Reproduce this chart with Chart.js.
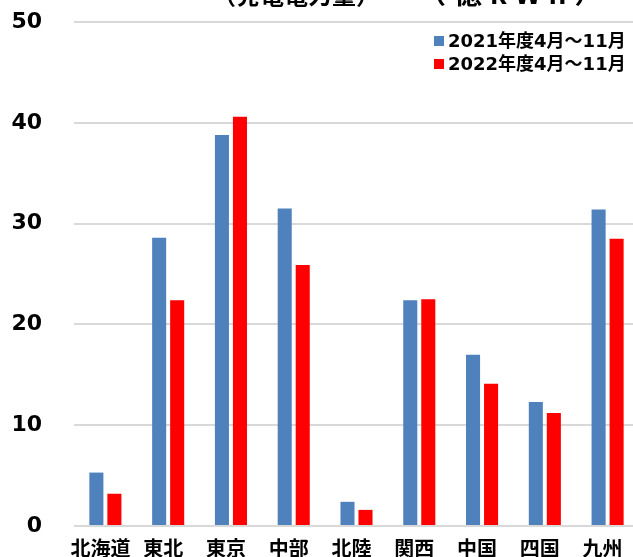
<!DOCTYPE html>
<html lang="ja">
<head>
<meta charset="utf-8">
<script src="https://cdn.jsdelivr.net/npm/chart.js@4.4.1/dist/chart.umd.min.js"></script>
<style>
  html, body { margin: 0; padding: 0; background: #ffffff; overflow: hidden; }
  #wrap { position: relative; width: 640px; height: 557px; }
</style>
</head>
<body>
<div id="wrap"><canvas id="chart"></canvas></div>
<script>
// 地域別の値（億kWh）
const regions = ['北海道', '東北', '東京', '中部', '北陸', '関西', '中国', '四国', '九州'];
const fy2021 = [5.3, 28.6, 38.8, 31.5, 2.4, 22.4, 17.0, 12.3, 31.4];
const fy2022 = [3.2, 22.4, 40.6, 25.9, 1.6, 22.5, 14.1, 11.2, 28.5];
const seriesLabels = ['2021年度4月～11月', '2022年度4月～11月'];
const seriesColors = ['#4f81bd', '#ff0000'];
const yTicks = [0, 10, 20, 30, 40, 50];
const titleLeft = '（発電電力量）';
const titleRight = '（億kWh）';

// 見出しと凡例を描くプラグイン
const decorations = {
  id: 'decorations',
  afterDraw(chart) {
    const ctx = chart.ctx;
    ctx.save();
    ctx.fillStyle = '#000000';
    ctx.textBaseline = 'alphabetic';
    ctx.textAlign = 'left';
    ctx.font = 'bold 24px "Noto Sans CJK JP", "DejaVu Sans", sans-serif';
    ctx.fillText(titleLeft, 212, 4);
    ctx.font = 'bold 28px "Noto Sans CJK JP", "DejaVu Sans", sans-serif';
    ctx.letterSpacing = '8px';
    ctx.fillText(titleRight, 418, 4);
    ctx.letterSpacing = '0px';

    ctx.font = 'bold 18px "DejaVu Sans", "Noto Sans CJK JP", sans-serif';
    ctx.textBaseline = 'middle';
    chart.data.datasets.forEach((ds, i) => {
      const y = 41 + i * 23;
      ctx.fillStyle = ds.backgroundColor;
      ctx.fillRect(434, y - 5, 10, 10);
      ctx.fillStyle = '#000000';
      ctx.fillText(ds.label, 448, y + 1);
    });
    ctx.restore();
  }
};

new Chart(document.getElementById('chart'), {
  type: 'bar',
  data: {
    labels: regions,
    datasets: [
      { label: seriesLabels[0], data: fy2021, backgroundColor: seriesColors[0] },
      { label: seriesLabels[1], data: fy2022, backgroundColor: seriesColors[1] }
    ]
  },
  options: {
    responsive: true,
    maintainAspectRatio: false,
    animation: false,
    layout: { padding: { left: 0, right: 1, top: 22, bottom: 0 } },
    datasets: {
      bar: { categoryPercentage: 0.574, barPercentage: 0.78 }
    },
    plugins: {
      legend: { display: false },
      title: { display: false },
      tooltip: { enabled: false }
    },
    scales: {
      x: {
        grid: { display: false },
        border: { display: false },
        ticks: {
          color: '#000000',
          padding: 2,
          labelOffset: -5,
          autoSkip: false,
          maxRotation: 0,
          minRotation: 0,
          font: { family: '"Noto Sans CJK JP", sans-serif', size: 20, weight: 'bold' }
        },
        afterFit(scale) {
          scale.height = 31;
          scale.paddingLeft = 0;
          scale.paddingRight = 0;
        }
      },
      y: {
        min: 0,
        max: 50,
        afterBuildTicks(scale) { scale.ticks = yTicks.map(v => ({ value: v })); },
        grid: { color: '#d9d9d9', lineWidth: 2, drawTicks: false },
        border: { display: false },
        ticks: {
          color: '#000000',
          padding: 32,
          font: { family: '"DejaVu Sans", sans-serif', size: 22, weight: 'bold' }
        },
        afterFit(scale) {
          scale.width = 74;
          scale.paddingTop = 0;
          scale.paddingBottom = 0;
        }
      }
    }
  },
  plugins: [decorations]
});
</script>
</body>
</html>
